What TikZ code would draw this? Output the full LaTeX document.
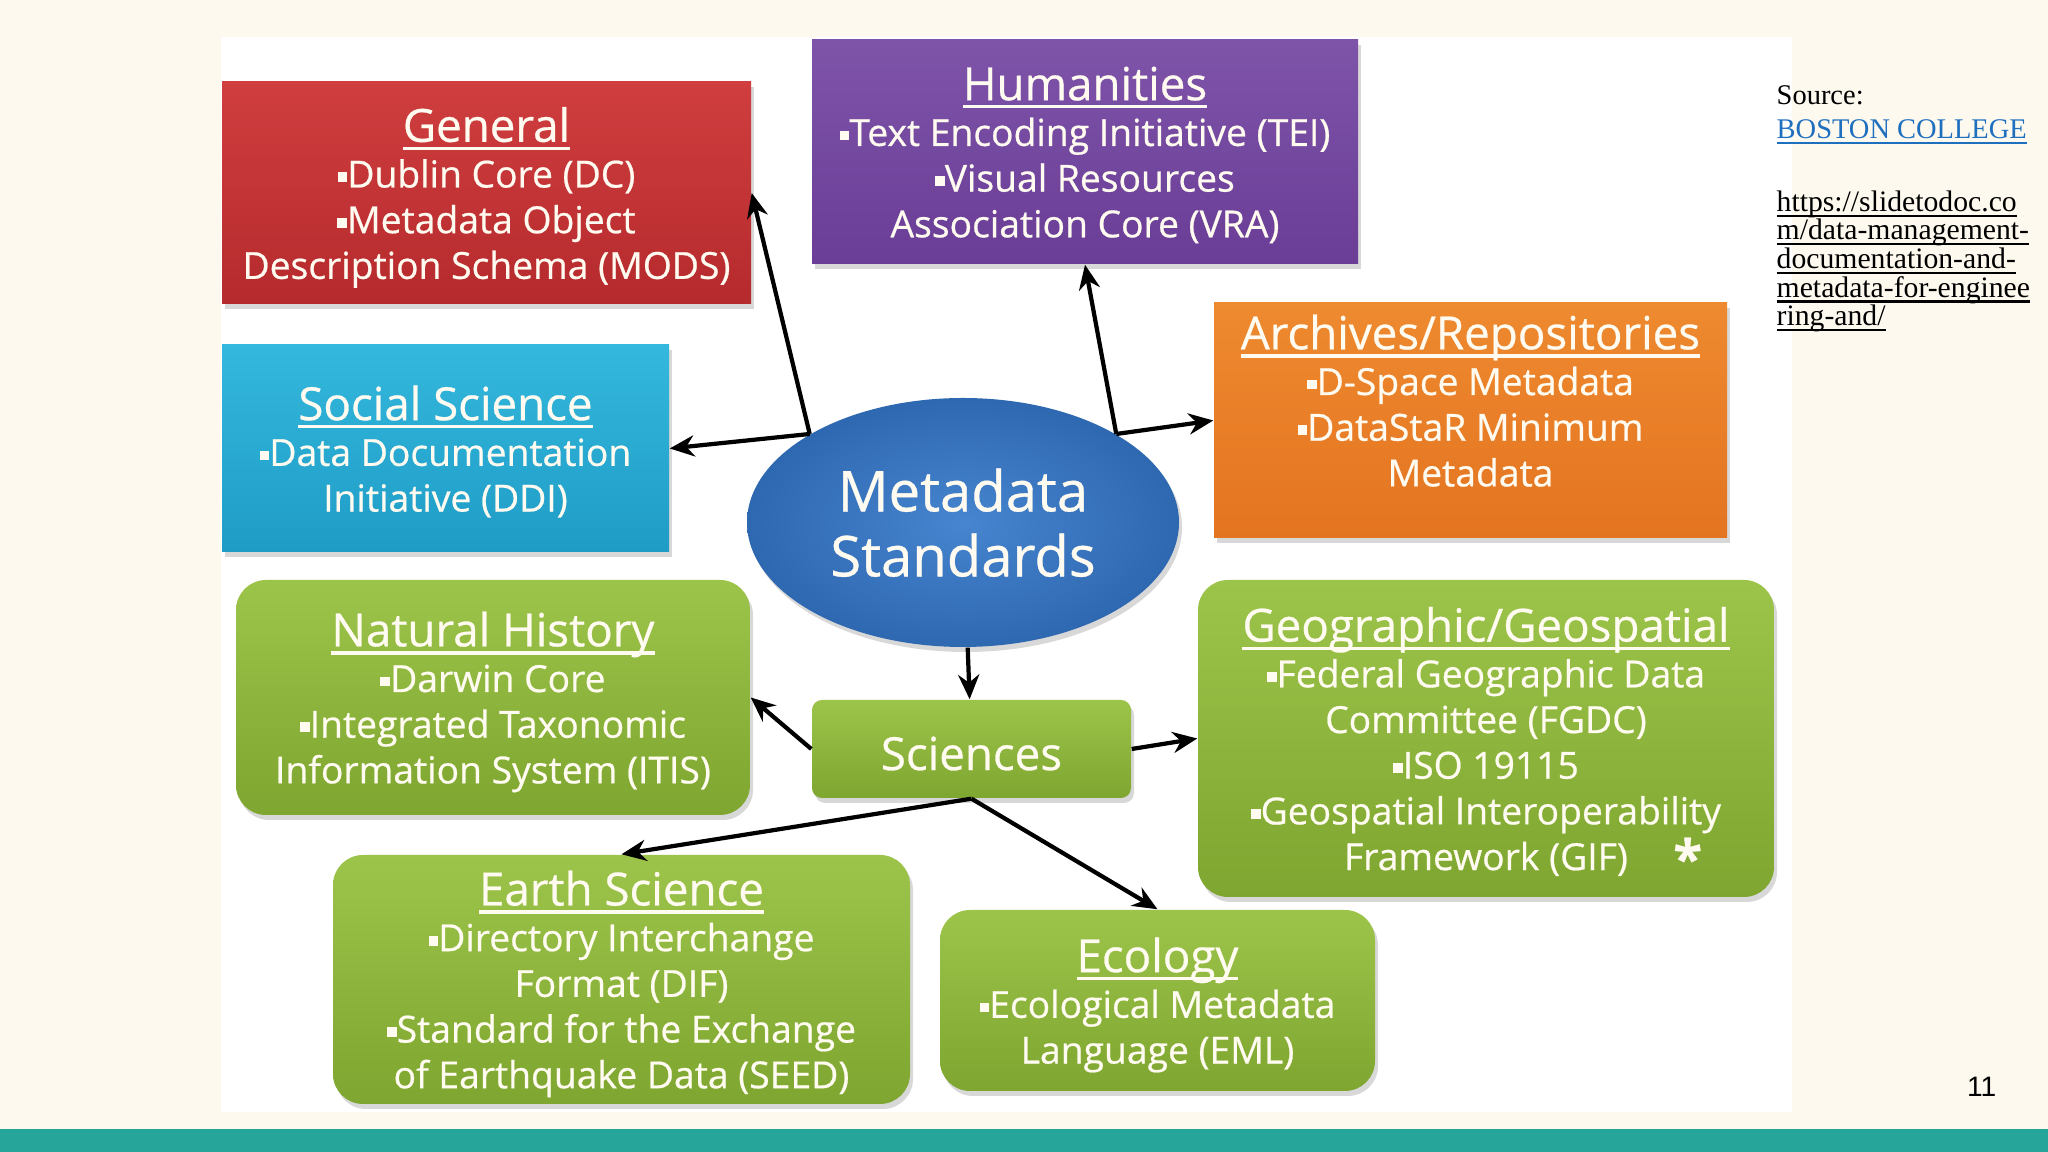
\documentclass[tikz,border=0pt]{standalone}
\usepackage{fontspec}
\setmainfont{Open Sans}[FakeBold=0.6]
\newfontfamily\srcfont{Liberation Serif}
\newfontfamily\numfont{Liberation Sans}
\usetikzlibrary{positioning,arrows.meta,shadows,shapes.geometric}

\definecolor{cream}{HTML}{FDF9EE}
\definecolor{barteal}{HTML}{26A69A}
\definecolor{linkblue}{HTML}{1F6FBF}
\definecolor{redtop}{HTML}{D03E3F}
\definecolor{redbot}{HTML}{B52A2D}
\definecolor{purtop}{HTML}{7E54A9}
\definecolor{purbot}{HTML}{6A3D96}
\definecolor{orgtop}{HTML}{EE8A30}
\definecolor{orgbot}{HTML}{E47420}
\definecolor{cyntop}{HTML}{34B8DD}
\definecolor{cynbot}{HTML}{1F9CC6}
\definecolor{grntop}{HTML}{9DC44A}
\definecolor{grnbot}{HTML}{7EA630}
\definecolor{bluein}{HTML}{4785D0}
\definecolor{blueout}{HTML}{2E68B0}
\definecolor{boxtext}{HTML}{FFFBF0}

\newsavebox\ulbox
\newcommand{\uln}[1]{\sbox\ulbox{#1}\rlap{\rule[-0.18em]{\wd\ulbox}{0.07em}}\usebox\ulbox}
\newcommand{\sqdot}{\raisebox{0.28ex}{\rule{0.26em}{0.26em}}}
\newcommand{\boxtitle}[1]{{\fontsize{13}{15}\selectfont\uln{#1}}}
\newcommand{\urlfont}{\srcfont\fontsize{8.45}{8.15}\selectfont\lineskiplimit=-5pt\relax}

\begin{document}
\begin{tikzpicture}[
    box/.style={text=boxtext, align=center, inner sep=0pt, text depth=0pt,
      font=\fontsize{10.6}{13}\selectfont,
      drop shadow={shadow xshift=0.03cm, shadow yshift=-0.05cm, opacity=0.3}},
    greenbox/.style={box, rounded corners=0.3cm, top color=grntop, bottom color=grnbot},
    arr/.style={-{Stealth[length=7pt,width=6pt]}, line width=1.2pt},
    srctext/.style={anchor=base west, inner sep=0pt, font=\srcfont\fontsize{8.1}{9.7}\selectfont}
  ]
  \fill[cream] (0,0) rectangle (20.48,11.52);
  \fill[white] (2.21,0.40) rectangle (17.92,11.15);
  \fill[barteal] (0,0) rectangle (20.48,0.23);

  \node[box, top color=redtop, bottom color=redbot, minimum width=5.29cm, minimum height=2.22cm]
    (gen) at (4.865,9.59) {\boxtitle{General}\\ \sqdot Dublin Core (DC)\\ \sqdot Metadata Object\\ Description Schema (MODS)};
  \node[box, top color=purtop, bottom color=purbot, minimum width=5.46cm, minimum height=2.24cm]
    (hum) at (10.85,10.00) {\boxtitle{Humanities}\\ \sqdot Text Encoding Initiative (TEI)\\ \sqdot Visual Resources\\ Association Core (VRA)};
  \node[box, top color=orgtop, bottom color=orgbot, minimum width=5.13cm, minimum height=2.35cm, text depth=0.4cm]
    (arc) at (14.705,7.315) {\boxtitle{Archives/Repositories}\\ \sqdot D-Space Metadata\\ \sqdot DataStaR Minimum\\ Metadata};
  \node[box, top color=cyntop, bottom color=cynbot, minimum width=4.47cm, minimum height=2.07cm]
    (soc) at (4.455,7.035) {\boxtitle{Social Science}\\ \sqdot Data Documentation\\ Initiative (DDI)};
  \node[box, ellipse, shading=radial, inner color=bluein, outer color=blueout,
    minimum width=4.32cm, minimum height=2.49cm, font=\fontsize{16}{18.5}\selectfont]
    (meta) at (9.63,6.295) {Metadata\\ Standards};
  \node[greenbox, minimum width=5.14cm, minimum height=2.35cm]
    (nat) at (4.93,4.545) {\boxtitle{Natural History}\\ \sqdot Darwin Core\\ \sqdot Integrated Taxonomic\\ Information System (ITIS)};
  \node[greenbox, rounded corners=0.1cm, minimum width=3.19cm, minimum height=0.98cm, text height=12pt,
    font=\fontsize{13}{15}\selectfont]
    (sci) at (9.715,4.03) {Sciences};
  \node[greenbox, minimum width=5.76cm, minimum height=3.17cm]
    (geo) at (14.86,4.135) {\boxtitle{Geographic/Geospatial}\\ \sqdot Federal Geographic Data\\ Committee (FGDC)\\ \sqdot ISO 19115\\ \sqdot Geospatial Interoperability\\ Framework (GIF)};
  \node[greenbox, minimum width=5.77cm, minimum height=2.49cm]
    (ear) at (6.215,1.725) {\boxtitle{Earth Science}\\ \sqdot Directory Interchange\\ Format (DIF)\\ \sqdot Standard for the Exchange\\ of Earthquake Data (SEED)};
  \node[greenbox, minimum width=4.35cm, minimum height=1.81cm]
    (eco) at (11.575,1.515) {\boxtitle{Ecology}\\ \sqdot Ecological Metadata\\ Language (EML)};
  \node[text=boxtext, inner sep=0pt, font=\fontsize{15}{15}\bfseries\selectfont]
    (star) at ([xshift=-0.87cm,yshift=0.40cm]geo.south east) {*};

  \draw[arr] (meta.150) -- (gen.east);
  \draw[arr] (meta.150) -- (soc.east);
  \draw[arr] (meta.30) -- (hum.south);
  \draw[arr] (meta.30) -- (arc.west);
  \draw[arr] (meta) -- (sci);
  \draw[arr] (sci.west) -- (nat.east);
  \draw[arr] (sci.east) -- (geo.west);
  \draw[arr] (sci.south) -- (ear.north);
  \draw[arr] (sci.south) -- (eco.north);

  \node[srctext] (src) at (17.76,10.47) {Source:};
  \node[srctext, text=linkblue, below=0.34cm of src.base west, anchor=base west] (bc) {\uln{BOSTON COLLEGE}};
  \node[srctext, align=left, font=\urlfont, below=0.51cm of bc.base west, anchor=north west]
    (url) {\uln{https://slidetodoc.co}\\ \uln{m/data-management-}\\ \uln{documentation-and-}\\ \uln{metadata-for-enginee}\\ \uln{ring-and/}};
  \node[anchor=base east, inner sep=0pt, font=\numfont\fontsize{8}{10}\selectfont] (pg) at (19.97,0.55) {11};
\end{tikzpicture}
\end{document}
